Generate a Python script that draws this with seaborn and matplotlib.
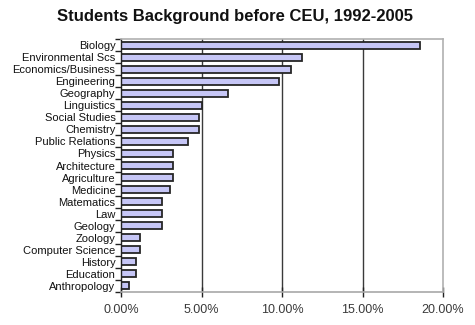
import matplotlib
matplotlib.use("Agg")
import matplotlib.pyplot as plt
import seaborn as sns
import pandas as pd
import numpy as np
from matplotlib.ticker import FixedLocator, PercentFormatter

subjects = ["Biology", "Environmental Scs", "Economics/Business", "Engineering",
            "Geography", "Linguistics", "Social Studies", "Chemistry",
            "Public Relations", "Physics", "Architecture", "Agriculture",
            "Medicine", "Matematics", "Law", "Geology", "Zoology",
            "Computer Science", "History", "Education", "Anthropology"]
shares = [18.56, 11.23, 10.57, 9.84, 6.63, 5.01, 4.83, 4.83, 4.14, 3.25,
          3.25, 3.25, 3.02, 2.57, 2.57, 2.57, 1.18, 1.18, 0.95, 0.95, 0.50]
x_ticks = [0, 5, 10, 15, 20]

df = pd.DataFrame({"subject": subjects, "share": shares})

sns.set_style("white")
plt.rcParams["font.family"] = ["Liberation Sans", "DejaVu Sans"]

fig = plt.figure(figsize=(4.75, 3.25), dpi=100)
ax = fig.add_axes([121 / 475, 1 - 292 / 325, (443 - 121) / 475, (292 - 39) / 325])

sns.barplot(data=df, x="share", y="subject", orient="h", ax=ax,
            color="#c6c6f6", edgecolor="#262626", linewidth=1.3,
            width=0.58, saturation=1)

ax.set_xlim(0, 20)
ax.set_ylim(len(subjects) - 0.5, -0.5)
ax.set_xlabel("")
ax.set_ylabel("")

# vertical gridlines at the major percentages
for v in x_ticks[1:-1]:
    ax.axvline(v, color="#3a3a3a", lw=1.0, zorder=0)

ax.xaxis.set_major_locator(FixedLocator(x_ticks))
ax.xaxis.set_major_formatter(PercentFormatter(decimals=2))
ax.tick_params(axis="x", direction="inout", length=7, width=1, color="#222222",
               labelsize=9, labelcolor="#3a3a3a", pad=5, bottom=True)

# category boundary ticks on the left axis
ax.yaxis.set_minor_locator(FixedLocator(np.arange(-0.5, len(subjects), 1.0)))
ax.tick_params(axis="y", which="minor", direction="out", length=4, width=1,
               color="#222222", left=True)
ax.tick_params(axis="y", which="major", length=0, labelsize=8,
               labelcolor="#111111", pad=4)

for side in ["top", "right"]:
    ax.spines[side].set_color("#b0b0b0")
    ax.spines[side].set_linewidth(1.2)
ax.spines["left"].set_color("#222222")
ax.spines["left"].set_linewidth(1.0)
ax.spines["bottom"].set_color("#a8a8a8")
ax.spines["bottom"].set_linewidth(1.2)
ax.spines["bottom"].set_linestyle((0, (1, 1)))

fig.text(235 / 475, 1 - 17 / 325, "Students Background before CEU, 1992-2005",
         ha="center", va="center", fontsize=12, fontweight="bold",
         color="#111111")

fig.savefig("out.png", dpi=100)
